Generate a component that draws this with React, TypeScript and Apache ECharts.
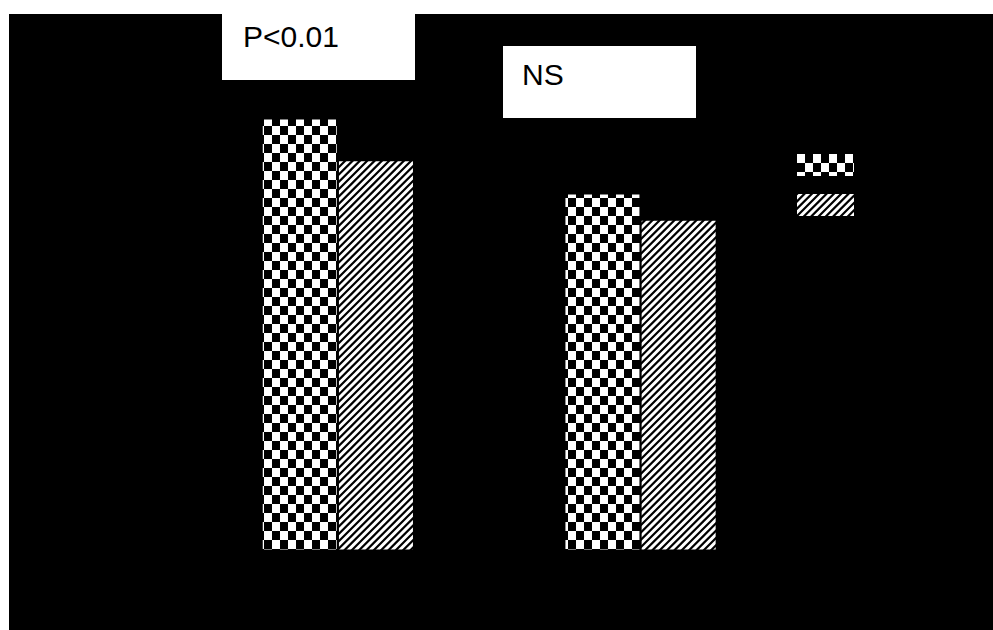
import React, { useEffect, useRef } from "react";
import * as echarts from "echarts";

const categories = ["Group 1", "Group 2"];
const seriesNames = ["Series A", "Series B"];
const checkerValues = [91.6, 75.6];
const hatchValues = [82.7, 70.0];
const annotations = ["P<0.01", "NS"];

function makeChecker(): HTMLCanvasElement {
  const c = document.createElement("canvas");
  c.width = 16;
  c.height = 18;
  const ctx = c.getContext("2d")!;
  ctx.fillStyle = "#fff";
  ctx.fillRect(0, 0, 16, 18);
  ctx.fillStyle = "#000";
  ctx.fillRect(8, 0, 8, 9);
  ctx.fillRect(0, 9, 8, 9);
  return c;
}

function makeHatch(): HTMLCanvasElement {
  const s = 22;
  const c = document.createElement("canvas");
  c.width = s;
  c.height = s;
  const ctx = c.getContext("2d")!;
  ctx.fillStyle = "#fff";
  ctx.fillRect(0, 0, s, s);
  ctx.strokeStyle = "#000";
  ctx.lineWidth = 2.2;
  ctx.beginPath();
  const p = s / 3;
  for (let k = -1; k <= 7; k++) {
    const cc = k * p;
    ctx.moveTo(cc + 5, -5);
    ctx.lineTo(cc - s - 5, s + 5);
  }
  ctx.stroke();
  return c;
}

export default function App() {
  const ref = useRef<HTMLDivElement>(null);
  useEffect(() => {
    if (!ref.current) return;
    const chart = echarts.init(ref.current, null, { renderer: "svg" });
    const checker = makeChecker();
    const hatch = makeHatch();
    const checkerPattern: any = {
      image: checker.toDataURL(),
      repeat: "repeat",
      imageWidth: 16,
      imageHeight: 18,
      y: 2.3,
    };
    const hatchPattern: any = {
      image: hatch.toDataURL(),
      repeat: "repeat",
      imageWidth: 22,
      imageHeight: 22,
    };
    const font = "'Liberation Sans', Arial, sans-serif";
    chart.setOption({
      animation: false,
      backgroundColor: "#ffffff",
      textStyle: { fontFamily: font },
      grid: { left: 186.5, width: 605.4, top: 80, bottom: 80.5, containLabel: false },
      legend: {
        orient: "vertical",
        left: 792,
        top: 149,
        itemWidth: 57,
        itemHeight: 22,
        itemGap: 18,
        icon: "rect",
        textStyle: { color: "#000", fontSize: 12 },
        data: seriesNames,
      },
      xAxis: {
        type: "category",
        data: categories,
        axisLine: { show: false },
        axisTick: { show: false },
        axisLabel: { color: "#000" },
      },
      yAxis: {
        type: "value",
        min: 0,
        max: 100,
        axisLine: { show: false },
        axisTick: { show: false },
        splitLine: { show: false },
        axisLabel: { show: false },
      },
      graphic: [
        { type: "rect", z: 0, shape: { x: 9, y: 14, width: 984, height: 616 }, style: { fill: "#000" } },
        { type: "rect", z: 1, shape: { x: 222, y: 0, width: 193, height: 80 }, style: { fill: "#fff" } },
        {
          type: "text",
          z: 2,
          x: 243,
          y: 36,
          style: { text: annotations[0], fill: "#000", font: `30px ${font}`, verticalAlign: "middle", align: "left" },
        },
        { type: "rect", z: 1, shape: { x: 503, y: 46, width: 193, height: 72 }, style: { fill: "#fff" } },
        {
          type: "text",
          z: 2,
          x: 522,
          y: 74.5,
          style: { text: annotations[1], fill: "#000", font: `30px ${font}`, verticalAlign: "middle", align: "left" },
        },
      ],
      series: [
        {
          name: seriesNames[0],
          type: "bar",
          data: checkerValues,
          barWidth: 74,
          barGap: "3%",
          itemStyle: { color: checkerPattern },
          z: 3,
        },
        {
          name: seriesNames[1],
          type: "bar",
          data: hatchValues,
          barWidth: 74,
          barGap: "3%",
          itemStyle: { color: hatchPattern },
          z: 3,
        },
      ],
    });
    return () => chart.dispose();
  }, []);
  return (
    <div
      ref={ref}
      style={{ position: "fixed", left: 0, top: 0, width: 993, height: 630 }}
    />
  );
}
